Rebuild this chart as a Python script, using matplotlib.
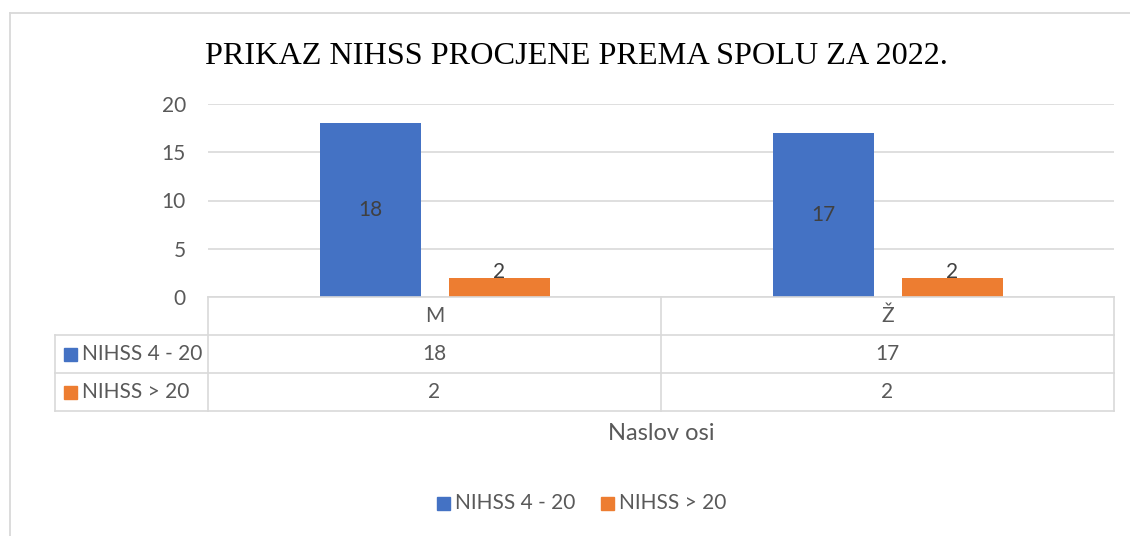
import matplotlib.pyplot as plt
from matplotlib.lines import Line2D
from matplotlib.patches import Rectangle

categories = ['M', 'Ž']
series_names = ['NIHSS 4 - 20', 'NIHSS > 20']
nihss_4_20 = [18, 17]
nihss_over_20 = [2, 2]
y_ticks = [0, 5, 10, 15, 20]

colors = ['#4472C4', '#ED7D31']
text_color = '#595959'
line_color = '#D9D9D9'
font = 'Lato'
fs = 15

W, H = 1130, 536


def fx(px):
    return px / W


def fy(py):
    return 1 - py / H


fig = plt.figure(figsize=(W / 100, H / 100), dpi=100)

# outer chart border
fig.add_artist(Line2D([fx(10), fx(10)], [fy(13), fy(536)], color=line_color, lw=1.3))
fig.add_artist(Line2D([fx(10), fx(1130)], [fy(13), fy(13)], color=line_color, lw=1.3))

ax = fig.add_axes([fx(208), fy(297), fx(1114) - fx(208), fy(104) - fy(297)])
ax.set_xlim(-0.5, len(categories) - 0.5)
ax.set_ylim(0, 20)

series = [nihss_4_20, nihss_over_20]
width = 0.223
offsets = [-0.142, 0.143]
for i, vals in enumerate(series):
    xs = [k + offsets[i] for k in range(len(categories))]
    ax.bar(xs, vals, width=width, color=colors[i], zorder=3)
    for x, v in zip(xs, vals):
        yl = v / 2 if v > 5 else v + 0.6
        ax.text(x, yl, str(v), ha='center', va='center', fontsize=fs,
                color='#404040', family=font, zorder=4)

ax.set_yticks(y_ticks)
ax.set_yticklabels([str(t) for t in y_ticks], fontsize=fs, color=text_color, family=font)
ax.tick_params(axis='y', length=0, pad=16)
ax.set_xticks([])
ax.grid(axis='y', color=line_color, lw=1.2, zorder=0)
for s in ax.spines.values():
    s.set_visible(False)

# data table under the plot
x_left, x_plot, x_right = 55, 208, 1114
col_w = (x_right - x_plot) / len(categories)
rows = [297, 335, 373, 411]
fig.add_artist(Line2D([fx(x_plot), fx(x_right)], [fy(rows[0])] * 2, color=line_color, lw=1.2))
for r in rows[1:]:
    fig.add_artist(Line2D([fx(x_left), fx(x_right)], [fy(r)] * 2, color=line_color, lw=1.2))
fig.add_artist(Line2D([fx(x_left)] * 2, [fy(rows[1]), fy(rows[3])], color=line_color, lw=1.2))
for k in range(len(categories) + 1):
    xv = x_plot + k * col_w
    fig.add_artist(Line2D([fx(xv)] * 2, [fy(rows[0]), fy(rows[3])], color=line_color, lw=1.2))

for k, cat in enumerate(categories):
    cx = x_plot + (k + 0.5) * col_w
    fig.text(fx(cx), fy((rows[0] + rows[1]) / 2), cat, ha='center', va='center',
             fontsize=fs, color=text_color, family=font)
    for i, vals in enumerate(series):
        fig.text(fx(cx), fy((rows[i + 1] + rows[i + 2]) / 2), str(vals[k]), ha='center',
                 va='center', fontsize=fs, color=text_color, family=font)

for i, name in enumerate(series_names):
    cy = (rows[i + 1] + rows[i + 2]) / 2
    fig.add_artist(Rectangle((fx(64), fy(cy + 6.5)), fx(13), fy(0) - fy(13), color=colors[i]))
    fig.text(fx(82), fy(cy), name, ha='left', va='center', fontsize=fs,
             color=text_color, family=font)

fig.text(fx((x_plot + x_right) / 2), fy(434), 'Naslov osi', ha='center', va='center',
         fontsize=17, color=text_color, family=font)

fig.text(fx(576.5), fy(56), 'PRIKAZ NIHSS PROCJENE PREMA SPOLU ZA 2022.', ha='center',
         va='center', fontsize=23.2, color='black', family='Liberation Serif')

# legend
leg_items = [(437, series_names[0]), (601, series_names[1])]
for i, (lx, name) in enumerate(leg_items):
    fig.add_artist(Rectangle((fx(lx), fy(509.5)), fx(13), fy(0) - fy(13), color=colors[i]))
    fig.text(fx(lx + 18), fy(503), name, ha='left', va='center', fontsize=fs,
             color=text_color, family=font)

fig.savefig('out.png', dpi=100)
